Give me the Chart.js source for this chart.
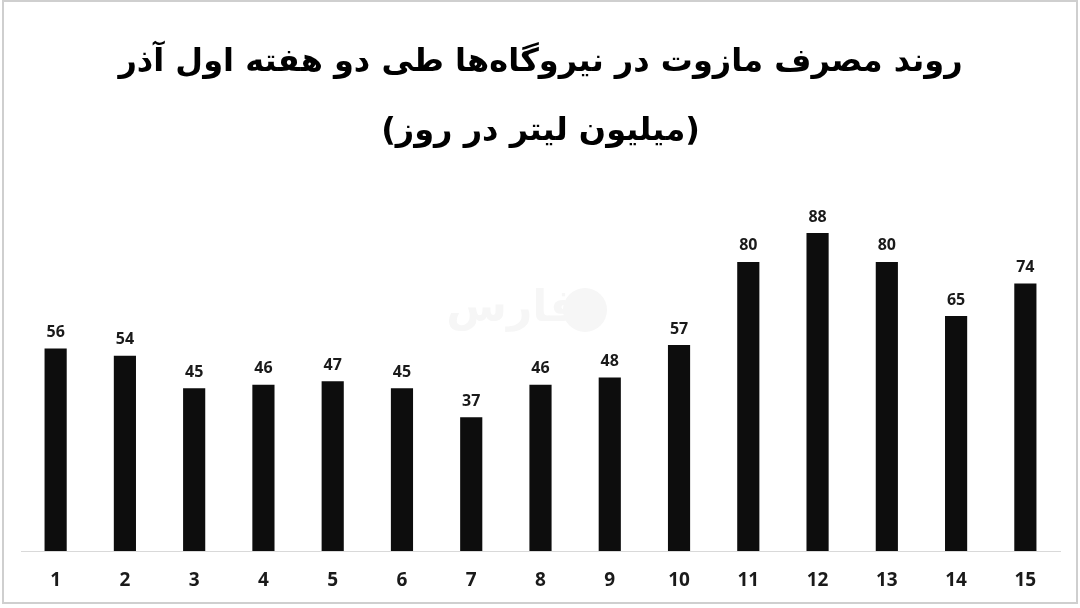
<!DOCTYPE html>
<html>
<head>
<meta charset="utf-8">
<script src="https://cdn.jsdelivr.net/npm/chart.js@4/dist/chart.umd.min.js"></script>
<style>
  html, body { margin: 0; padding: 0; background: #fff; }
  #wrap { width: 1080px; height: 608px; }
</style>
</head>
<body>
<div id="wrap"><canvas id="myChart" width="1080" height="608"></canvas></div>
<script>
// data
const days = ['1', '2', '3', '4', '5', '6', '7', '8', '9', '10', '11', '12', '13', '14', '15'];
const mazutUse = [56, 54, 45, 46, 47, 45, 37, 46, 48, 57, 80, 88, 80, 65, 74];
const titleLines = ['روند مصرف مازوت در نیروگاه‌ها طی دو هفته اول آذر', '(میلیون لیتر در روز)'];

// draws the value above each bar
const barLabels = {
    id: 'barLabels',
    afterDatasetsDraw(chart) {
        const ctx = chart.ctx;
        const meta = chart.getDatasetMeta(0);
        ctx.save();
        ctx.font = 'bold 16px "Open Sans"';
        ctx.fillStyle = '#1a1a1a';
        ctx.textAlign = 'center';
        ctx.textBaseline = 'bottom';
        meta.data.forEach((bar, i) => {
            ctx.fillText(String(mazutUse[i]), bar.x, bar.y - 8);
        });
        ctx.restore();
    }
};

// faint watermark and the thin frame round the picture
const frame = {
    id: 'frame',
    beforeDraw(chart) {
        const ctx = chart.ctx;
        ctx.save();
        ctx.font = 'bold 44px "DejaVu Sans"';
        ctx.fillStyle = '#f6f6f6';
        ctx.textAlign = 'center';
        ctx.textBaseline = 'middle';
        ctx.fillText('فارس', 512, 310);
        ctx.beginPath();
        ctx.arc(585, 310, 22, 0, Math.PI * 2);
        ctx.fill();
        ctx.restore();
    },
    afterDraw(chart) {
        const ctx = chart.ctx;
        ctx.save();
        ctx.strokeStyle = '#cfcfcf';
        ctx.lineWidth = 2;
        ctx.strokeRect(3, 1, 1074, 602);
        ctx.restore();
    }
};

const ctx = document.getElementById('myChart').getContext('2d');
new Chart(ctx, {
    type: 'bar',
    data: {
        labels: days,
        datasets: [{
            data: mazutUse,
            backgroundColor: '#0d0d0d',
            borderWidth: 0,
            categoryPercentage: 1,
            barPercentage: 0.32
        }]
    },
    options: {
        responsive: false,
        animation: false,
        layout: {
            padding: { top: 28, left: 21, right: 20, bottom: -2 }
        },
        plugins: {
            legend: { display: false },
            tooltip: { enabled: false },
            title: {
                display: true,
                text: titleLines,
                color: '#000',
                font: { family: 'DejaVu Sans', size: 32, weight: 'bold', lineHeight: 2.15 },
                padding: { top: 0, bottom: 24 }
            }
        },
        scales: {
            x: {
                grid: { display: false, drawTicks: false },
                border: { display: true, color: '#d9d9d9', width: 1 },
                ticks: {
                    color: '#1a1a1a',
                    padding: 20,
                    font: { family: 'Open Sans', size: 19, weight: 'bold', lineHeight: 1 }
                }
            },
            y: {
                display: false,
                min: 0,
                max: 100
            }
        }
    },
    plugins: [barLabels, frame]
});
</script>
</body>
</html>
